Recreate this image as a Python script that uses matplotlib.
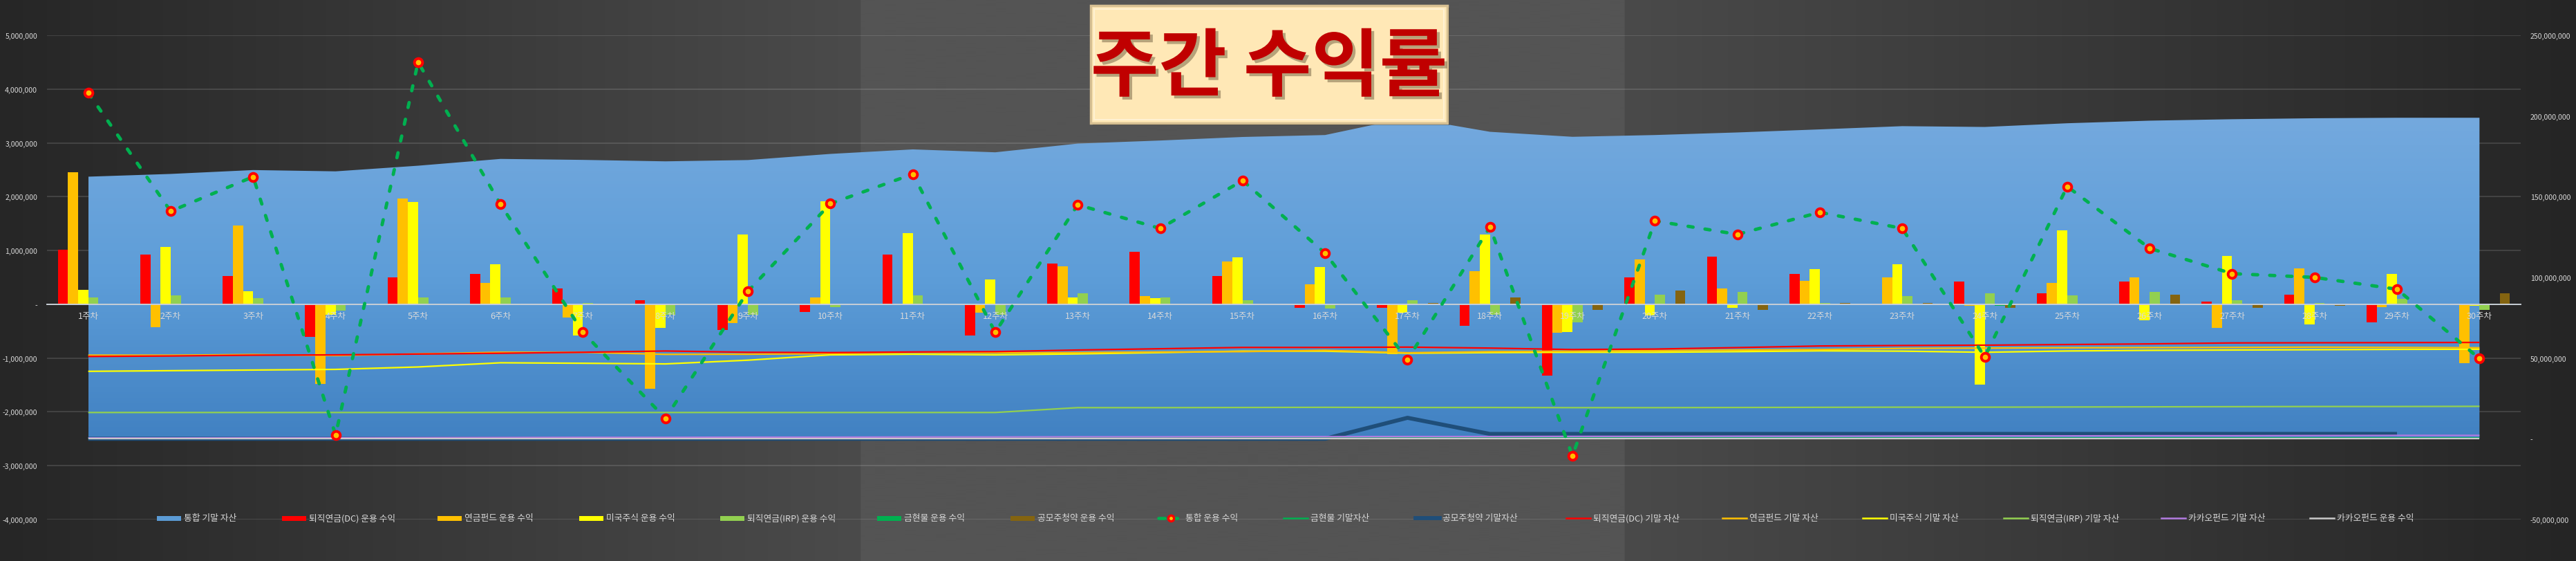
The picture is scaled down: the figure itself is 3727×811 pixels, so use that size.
import numpy as np
import matplotlib
matplotlib.use('Agg')
import matplotlib.pyplot as plt
from matplotlib.patches import Rectangle
from matplotlib.lines import Line2D
from matplotlib.ticker import FuncFormatter
from matplotlib.colors import LinearSegmentedColormap
import matplotlib.patheffects as pe

plt.rcParams['font.family'] = ['Noto Sans CJK KR', 'DejaVu Sans']

# ---------------- data ----------------
weeks = [f'{i}주차' for i in range(1, 31)]

# weekly income (KRW) - primary axis (bars)
dc_income = [1020000, 930000, 530000, -610000, 505000, 560000, 290000, 80000, -480000, -140000,
             930000, -580000, 760000, 980000, 530000, -60000, -60000, -400000, -1330000, 500000,
             880000, 560000, -20000, 420000, 200000, 420000, 55000, 180000, -330000, -5000]
fund_income = [2450000, -420000, 1470000, -1480000, 1970000, 400000, -250000, -1570000, -350000, 130000,
               -10000, -160000, 710000, 150000, 790000, 370000, -930000, 610000, -530000, 830000,
               300000, 430000, 500000, -30000, 400000, 500000, -440000, 670000, -50000, -1100000]
us_income = [275000, 1060000, 240000, -200000, 1900000, 750000, -580000, -440000, 1300000, 1920000,
             1320000, 460000, 130000, 120000, 870000, 690000, -160000, 1300000, -510000, -210000,
             -60000, 650000, 750000, -1490000, 1380000, -300000, 900000, -380000, 570000, -30000]
irp_income = [133000, 160000, 110000, -120000, 133000, 133000, 20000, -190000, -190000, -55000,
              160000, -190000, 210000, 130000, 80000, -80000, 70000, -190000, -340000, 180000,
              225000, 30000, 150000, 210000, 160000, 225000, 80000, 20000, 100000, -110000]
gold_income = [12000, -6000, 6000, 4000, 8000, 6000, -6000, 5000, 6000, 4000,
               5000, -4000, 6000, 5000, 4000, 5000, 7000, 12000, -6000, 4000,
               6000, 8000, 5000, -30000, 5000, 6000, 4000, 5000, -6000, 6000]
ipo_income = [0, 0, 0, 0, 0, 0, 0, 0, 0, 0,
              0, 0, 0, 0, 0, 0, 20000, 130000, -110000, 250000,
              -110000, 20000, 20000, -70000, 5000, 180000, -70000, -30000, -10000, 200000]
total_income = [3930000, 1730000, 2370000, -2430000, 4500000, 1860000, -520000, -2120000, 240000, 1870000,
                2420000, -520000, 1850000, 1410000, 2300000, 950000, -1030000, 1440000, -2820000, 1550000,
                1300000, 1710000, 1410000, -980000, 2190000, 1040000, 570000, 500000, 280000, -1010000]

# end-of-week assets (KRW) - secondary axis
total_asset = [162.4e6, 164.1e6, 166.5e6, 165.7e6, 169.2e6, 173.4e6, 172.8e6, 171.9e6, 172.7e6, 176.5e6,
               179.3e6, 177.5e6, 182.9e6, 184.8e6, 187.0e6, 188.2e6, 199.0e6, 190.2e6, 187.1e6, 188.2e6,
               189.8e6, 191.7e6, 193.7e6, 193.2e6, 195.5e6, 197.1e6, 198.0e6, 198.6e6, 198.9e6, 198.9e6]
gold_asset = [0.40e6, 0.40e6, 0.41e6, 0.41e6, 0.42e6, 0.42e6, 0.42e6, 0.43e6, 0.43e6, 0.43e6,
              0.44e6, 0.44e6, 0.44e6, 0.45e6, 0.45e6, 0.45e6, 0.46e6, 0.46e6, 0.46e6, 0.47e6,
              0.47e6, 0.47e6, 0.48e6, 0.48e6, 0.48e6, 0.49e6, 0.49e6, 0.49e6, 0.50e6, 0.50e6]
ipo_asset = [0, 0, 0, 0, 0, 0, 0, 0, 0, 0,
             0, 0, 0, 0, 0, 0, 13.0e6, 3.0e6, 3.0e6, 3.0e6,
             3.0e6, 3.0e6, 3.0e6, 3.0e6, 3.0e6, 3.0e6, 3.0e6, 3.0e6, 3.0e6, np.nan]
dc_asset = [51.0e6, 51.3e6, 51.8e6, 52.0e6, 52.5e6, 53.0e6, 53.6e6, 54.4e6, 53.6e6, 53.4e6,
            53.8e6, 54.0e6, 55.0e6, 55.8e6, 56.6e6, 56.6e6, 56.8e6, 56.2e6, 55.3e6, 55.6e6,
            56.5e6, 57.5e6, 57.8e6, 58.0e6, 58.4e6, 58.8e6, 59.4e6, 59.5e6, 59.6e6, 59.7e6]
fund_asset = [51.8e6, 51.8e6, 52.2e6, 51.6e6, 52.6e6, 53.6e6, 53.6e6, 52.3e6, 52.4e6, 52.8e6,
              53.6e6, 53.2e6, 53.4e6, 53.8e6, 54.0e6, 54.8e6, 53.3e6, 54.0e6, 54.3e6, 54.6e6,
              55.0e6, 55.3e6, 56.0e6, 56.2e6, 56.4e6, 56.5e6, 56.6e6, 56.8e6, 56.6e6, 56.4e6]
us_asset = [41.8e6, 42.2e6, 42.6e6, 43.0e6, 44.5e6, 47.1e6, 46.8e6, 46.4e6, 48.7e6, 52.0e6,
            52.4e6, 52.0e6, 52.6e6, 53.4e6, 54.3e6, 54.3e6, 53.0e6, 53.4e6, 53.6e6, 53.6e6,
            54.0e6, 54.5e6, 54.3e6, 53.6e6, 54.4e6, 54.8e6, 55.0e6, 55.2e6, 55.4e6, 55.5e6]
irp_asset = [16.3e6, 16.3e6, 16.3e6, 16.3e6, 16.3e6, 16.3e6, 16.3e6, 16.3e6, 16.3e6, 16.3e6,
             16.3e6, 16.3e6, 19.3e6, 19.3e6, 19.4e6, 19.5e6, 19.4e6, 19.4e6, 19.3e6, 19.3e6,
             19.4e6, 19.5e6, 19.6e6, 19.6e6, 19.7e6, 19.8e6, 19.9e6, 20.0e6, 20.0e6, 20.1e6]
kakao_asset = [0.5e6, 0.5e6, 0.6e6, 0.6e6, 0.7e6, 0.8e6, 0.9e6, 0.9e6, 1.0e6, 1.0e6,
               1.1e6, 1.1e6, 1.2e6, 1.2e6, 1.3e6, 1.3e6, 1.4e6, 1.4e6, 1.5e6, 1.5e6,
               1.6e6, 1.6e6, 1.7e6, 1.8e6, 1.8e6, 1.9e6, 1.9e6, 2.0e6, 2.1e6, 2.1e6]
kakao_income = [0, 0, 0, 0, 0, 0, 0, 0, 0, 0,
                0, 0, 0, 0, 0, 0, 0, 0, 0, 0,
                0, 0, 0, 0, 0, 0, 0, 0, 0, 0]

left_ticks = [-4e6, -3e6, -2e6, -1e6, 0, 1e6, 2e6, 3e6, 4e6, 5e6]
right_ticks = [-50e6, 0, 50e6, 100e6, 150e6, 200e6, 250e6]

# ---------------- layout ----------------
W, H, DPI = 3727, 812, 100
fig = plt.figure(figsize=(W / DPI, H / DPI), dpi=DPI)

# background gradient
ax_bg = fig.add_axes([0, 0, 1, 1], zorder=-10)
xs = np.arange(W, dtype=float)
g = np.where(xs < 1245, 0x26 + (0x4b - 0x26) * xs / 1245,
             np.where(xs < 2350, 0x54, 0x4a - (0x4a - 0x25) * (xs - 2350) / (W - 2350)))
img = np.tile((g / 255.0)[None, :, None], (2, 1, 3))
ax_bg.imshow(img, aspect='auto', extent=[0, 1, 0, 1], interpolation='bilinear')
ax_bg.set_xlim(0, 1); ax_bg.set_ylim(0, 1)
ax_bg.axis('off')

rect = [68 / W, (H - 752) / H, (3647 - 68) / W, 700 / H]
x = np.arange(len(weeks))
XL = (-0.5, len(weeks) - 0.5)
PL = (-4e6, 5e6)
SL = (-50e6, 250e6)


def mk(z, ylim):
    a = fig.add_axes(rect, zorder=z)
    a.patch.set_visible(False)
    for s in a.spines.values():
        s.set_visible(False)
    a.set_xlim(*XL)
    a.set_ylim(*ylim)
    a.set_xticks([])
    a.set_yticks([])
    return a


ax_grid = mk(1, PL)
ax_area = mk(2, SL)
ax_bar = mk(3, PL)
ax_line = mk(4, SL)
ax_top = mk(5, PL)

tick_col = '#D9D9D9'


def fmt(v, pos=None):
    if abs(v) < 1:
        return '-'
    return f'{int(round(v)):,}'


# grid + left labels
ax_grid.set_yticks(left_ticks)
ax_grid.yaxis.set_major_formatter(FuncFormatter(fmt))
ax_grid.tick_params(axis='y', length=0, pad=10, labelsize=7.6, labelcolor=tick_col)
ax_grid.yaxis.grid(True, color='white', alpha=0.13, lw=1.4)
ax_grid.set_axisbelow(True)

# area with gradient (secondary)
poly = ax_area.fill_between(x, 0, total_asset, color='none', lw=0)
cmap = LinearSegmentedColormap.from_list('area', ['#4181C2', '#5D9DD8', '#74A9DE'])
grad = np.linspace(0, 1, 256)[:, None]
im = ax_area.imshow(grad, extent=[x[0], x[-1], 0, max(total_asset)], origin='lower',
                    aspect='auto', cmap=cmap, interpolation='bilinear')
im.set_clip_path(poly.get_paths()[0], transform=ax_area.transData)
ax_area.set_xlim(*XL); ax_area.set_ylim(*SL)
ax_area.yaxis.tick_right()
ax_area.set_yticks(right_ticks)
ax_area.yaxis.set_major_formatter(FuncFormatter(fmt))
ax_area.tick_params(axis='y', length=0, pad=10, labelsize=7.6, labelcolor=tick_col)
for lab in ax_area.get_yticklabels():
    lab.set_horizontalalignment('left')

# bars (primary)
bw = 14.7 / 119.3
bar_series = [
    (dc_income, '#FF0000'),
    (fund_income, '#FFC000'),
    (us_income, '#FFFF00'),
    (irp_income, '#92D050'),
    (gold_income, '#00B050'),
    (ipo_income, '#846410'),
]
for i, (vals, col) in enumerate(bar_series):
    ax_bar.bar(x + (i - 2.5) * bw, vals, width=bw, color=col, linewidth=0)
ax_bar.set_xlim(*XL)
ax_bar.spines['bottom'].set_visible(True)
ax_bar.spines['bottom'].set_position(('data', 0))
ax_bar.spines['bottom'].set_color('#C8CED6')
ax_bar.spines['bottom'].set_linewidth(1.4)
ax_bar.set_xticks(x)
ax_bar.set_xticklabels(weeks)
ax_bar.tick_params(axis='x', length=0, pad=7, labelsize=9, labelcolor=tick_col)

# secondary lines
line_series = [
    (ipo_asset, '#1F4E79', 4.2),
    (gold_asset, '#00B050', 1.6),
    (kakao_asset, '#B27BE0', 1.6),
    (kakao_income, '#C8C8C8', 1.6),
    (irp_asset, '#92D050', 1.6),
    (us_asset, '#FFFF00', 1.6),
    (fund_asset, '#FFC000', 1.6),
    (dc_asset, '#FF0000', 1.6),
]
for vals, col, lw in line_series:
    ax_line.plot(x, vals, color=col, lw=lw, solid_capstyle='butt')
ax_line.set_xlim(*XL); ax_line.set_ylim(*SL)

# total income dashed line with markers
ax_top.plot(x, total_income, color='#00B050', lw=3.5, dashes=(1.5, 3.6), dash_capstyle='round',
            marker='o', ms=8.4, mfc='#FFC000', mec='#FF0000', mew=2.8, zorder=5)
ax_top.set_xlim(*XL); ax_top.set_ylim(*PL)

# ---------------- title box ----------------
bx0, by0, bwid, bhei = 1578 / W, (H - 179) / H, (2094 - 1578) / W, 170 / H
fig.patches.append(Rectangle((bx0 + 3 / W, by0 - 3 / H), bwid, bhei, transform=fig.transFigure,
                             facecolor='black', alpha=0.35, lw=0, zorder=19))
fig.patches.append(Rectangle((bx0, by0), bwid, bhei, transform=fig.transFigure,
                             facecolor='#FFE8B6', edgecolor='#D6BF92', lw=2.5, zorder=20))
fig.patches.append(Rectangle((bx0 + 5 / W, by0 + 5 / H), bwid - 10 / W, bhei - 10 / H,
                             transform=fig.transFigure, facecolor='none',
                             edgecolor='#FFF1D2', lw=1.5, zorder=20))
fig.text(bx0 + bwid / 2, (H - 100) / H, '주간 수익률', ha='center', va='center', fontsize=77,
         fontweight='heavy', color='#C00000', zorder=21,
         path_effects=[pe.withSimplePatchShadow(offset=(3, -3), shadow_rgbFace='#7a6a4a', alpha=0.55)])

# ---------------- legend (Excel-like, bottom) ----------------
leg_y = (H - 750) / H
legend_items = [
    ('통합 기말 자산', 'patch', '#5B9BD5'),
    ('퇴직연금(DC) 운용 수익', 'patch', '#FF0000'),
    ('연금펀드 운용 수익', 'patch', '#FFC000'),
    ('미국주식 운용 수익', 'patch', '#FFFF00'),
    ('퇴직연금(IRP) 운용 수익', 'patch', '#92D050'),
    ('금현물 운용 수익', 'patch', '#00B050'),
    ('공모주청약 운용 수익', 'patch', '#846410'),
    ('통합 운용 수익', 'marker', '#00B050'),
    ('금현물 기말자산', 'line', '#00B050'),
    ('공모주청약 기말자산', 'thick', '#1F4E79'),
    ('퇴직연금(DC) 기말 자산', 'line', '#FF0000'),
    ('연금펀드 기말 자산', 'line', '#FFC000'),
    ('미국주식 기말 자산', 'line', '#FFFF00'),
    ('퇴직연금(IRP) 기말 자산', 'line', '#92D050'),
    ('카카오펀드 기말 자산', 'line', '#B27BE0'),
    ('카카오펀드 운용 수익', 'line', '#C8C8C8'),
]
legend_x = [227, 408, 633, 838, 1042, 1269, 1462, 1676, 1857, 2048, 2266, 2492, 2695, 2899, 3127, 3342]
hl = 35
for (lab, kind, col), x0 in zip(legend_items, legend_x):
    xa, xb = x0 / W, (x0 + hl) / W
    if kind == 'patch':
        fig.patches.append(Rectangle((xa, leg_y - 3.5 / H), hl / W, 7 / H, transform=fig.transFigure,
                                     facecolor=col, lw=0, zorder=30))
    elif kind == 'marker':
        fig.lines.append(Line2D([xa, xb], [leg_y, leg_y], transform=fig.transFigure, color=col,
                                lw=3.3, dashes=(2.0, 2.0), dash_capstyle='round', zorder=30))
        fig.lines.append(Line2D([(xa + xb) / 2], [leg_y], transform=fig.transFigure, marker='o',
                                ms=6, mfc='#FFC000', mec='#FF0000', mew=2.4, lw=0, zorder=31))
    else:
        lw = 4.2 if kind == 'thick' else 1.8
        fig.lines.append(Line2D([xa, xb], [leg_y, leg_y], transform=fig.transFigure, color=col,
                                lw=lw, zorder=30))
    fig.text((x0 + hl + 4) / W, leg_y, lab, ha='left', va='center', fontsize=9.2,
             color=tick_col, zorder=30)

fig.savefig('out.png', dpi=DPI)
